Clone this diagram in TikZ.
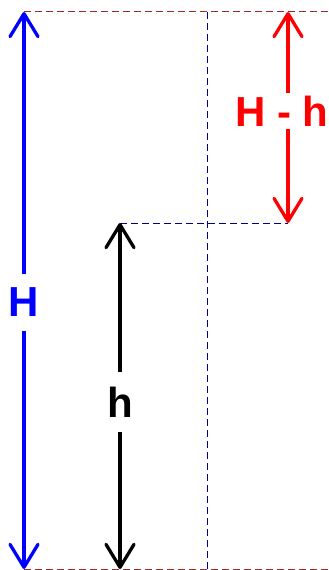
\documentclass[tikz,border=0pt]{standalone}
\usepackage{fontspec}
\setmainfont{Liberation Sans}
\usetikzlibrary{arrows.meta}
\definecolor{guidered}{RGB}{160,40,40}
\definecolor{guidenavy}{RGB}{0,0,140}
\begin{document}
\begin{tikzpicture}[
    x=1bp, y=-1bp,
    font=\fontsize{42bp}{50bp}\selectfont\bfseries,
    dim/.style={{Straight Barb[length=23bp, width=28bp, round]}-{Straight Barb[length=23bp, width=28bp, round]}, line width=3.3bp, line cap=round},
    guide/.style={line width=1bp, dash pattern=on 7bp off 4bp},
    lbl/.style={fill=white, inner xsep=2bp, inner ysep=14.5bp}
]
\useasboundingbox (0,0) rectangle (328,570);

\coordinate (Htop) at (24,12);
\coordinate (Hbot) at (24,569);
\coordinate (htop) at (120,223);
\coordinate (hbot) at (120,569);
\coordinate (dtop) at (288,12);
\coordinate (dbot) at (288,223);
\coordinate (rtop) at (328,12);
\coordinate (rbot) at (328,569);
\coordinate (vtop) at (207,12);
\coordinate (vbot) at (207,569);

% guide lines
\draw[guide, guidered] (Htop) -- (rtop);
\draw[guide, guidered] (Hbot) -- (rbot);
\draw[guide, guidenavy] (htop) -- (dbot);
\draw[guide, guidenavy] (vtop) -- (vbot);

% dimensions
\draw[dim, blue] (Htop) -- (Hbot);
\draw[dim, black] (htop) -- (hbot);
\draw[dim, red] (dtop) -- (dbot);

\node[lbl, text=blue] (Hlab) at (24,302.5) {H};
\node[lbl, text=black] (hlab) at (120,402) {h};
\node[lbl, text=red, inner ysep=3bp, inner xsep=0bp] (dlab) at (282,111) {H - h};
\end{tikzpicture}
\end{document}
